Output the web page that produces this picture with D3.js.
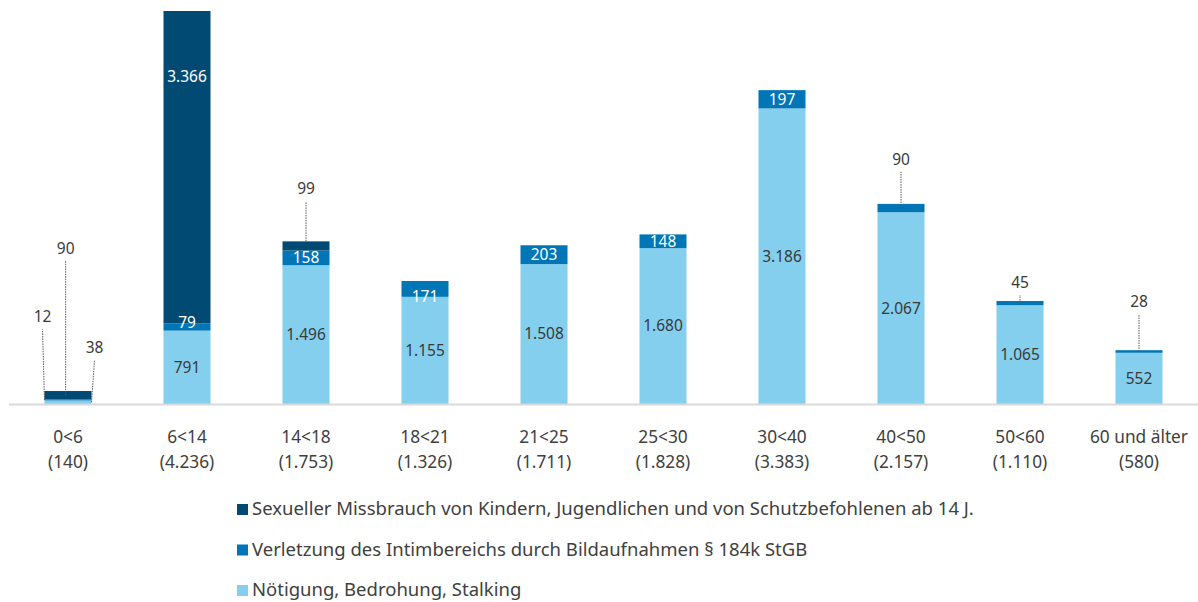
<!DOCTYPE html>
<html>
<head>
<meta charset="utf-8">
<script src="https://cdn.jsdelivr.net/npm/d3@7"></script>
<style>
  body { margin: 0; background: #fff; }
  svg text { font-family: "Noto Sans", "Open Sans", sans-serif; }
</style>
</head>
<body>
<div id="chart-area"><svg></svg></div>
<script>
const chartSize = { width: 1198, height: 602 };

const categories = ["0<6", "6<14", "14<18", "18<21", "21<25", "25<30", "30<40", "40<50", "50<60", "60 und älter"];
const missbrauch = [90, 3366, 99, 0, 0, 0, 0, 0, 0, 0];
const intim = [12, 79, 158, 171, 203, 148, 197, 90, 45, 28];
const noetigung = [38, 791, 1496, 1155, 1508, 1680, 3186, 2067, 1065, 552];

const seriesNames = [
  "Sexueller Missbrauch von Kindern, Jugendlichen und von Schutzbefohlenen ab 14 J.",
  "Verletzung des Intimbereichs durch Bildaufnahmen § 184k StGB",
  "Nötigung, Bedrohung, Stalking"
];
const colours = ["#004a74", "#0076b6", "#84cfee"];

// labels drawn above the bar with a dotted leader (key, category index, where on bar, rise)
const outsideLabels = [
  { key: "intim", i: 0, at: 0, rise: 70, dx: -2 },
  { key: "missbrauch", i: 0, at: 0.45, rise: 130, dx: 0 },
  { key: "noetigung", i: 0, at: 1, rise: 40, dx: 3 },
  { key: "missbrauch", i: 2, at: 0.5, rise: 40, dx: 0 },
  { key: "intim", i: 7, at: 0.5, rise: 32, dx: 0 },
  { key: "intim", i: 8, at: 0.5, rise: 6, dx: 0 },
  { key: "intim", i: 9, at: 0.5, rise: 36, dx: 0 }
];
// inside labels nudged away from the segment centre
const labelNudge = { "missbrauch-1": -91, "intim-1": -4, "intim-3": 8 };

const de = d3.formatLocale({ decimal: ",", thousands: ".", grouping: [3], currency: ["", "€"] });
const num = de.format(",d");

const keys = ["noetigung", "intim", "missbrauch"];
const colourOf = { missbrauch: colours[0], intim: colours[1], noetigung: colours[2] };
const rows = categories.map((c, i) => ({
  cat: c, missbrauch: missbrauch[i], intim: intim[i], noetigung: noetigung[i],
  total: missbrauch[i] + intim[i] + noetigung[i]
}));

const baseline = 404;
const xScale = d3.scaleBand().domain(categories).range([8.5, 1198.5])
  .paddingInner(0.605).paddingOuter(0.3025);
const yScale = d3.scaleLinear().domain([0, d3.max(rows, d => d.total)]).range([baseline, 11]);

const svg = d3.select("#chart-area svg")
  .attr("width", chartSize.width).attr("height", chartSize.height);

const stack = d3.stack().keys(keys)(rows);

const layers = svg.selectAll("g.layer").data(stack).enter().append("g")
  .attr("class", "layer")
  .attr("fill", s => colourOf[s.key]);

layers.selectAll("rect").data(s => s.map(p => ({ p, key: s.key })))
  .enter().append("rect")
  .attr("x", d => xScale(d.p.data.cat))
  .attr("width", xScale.bandwidth())
  .attr("y", d => yScale(d.p[1]))
  .attr("height", d => yScale(d.p[0]) - yScale(d.p[1]));

// axis
const xAxis = d3.axisBottom(xScale).tickSize(0).tickPadding(0);
const axisG = svg.append("g").attr("transform", `translate(0, ${baseline})`).call(xAxis);
axisG.select(".domain").attr("stroke", "#d9d9d9").attr("stroke-width", 2);
axisG.selectAll(".tick text").remove();
axisG.selectAll(".tick").each(function(c, i) {
  const t = d3.select(this).append("text")
    .attr("fill", "#404040").attr("font-size", 17.3).attr("text-anchor", "middle");
  t.append("tspan").attr("x", 0).attr("y", 39).text(c);
  t.append("tspan").attr("x", 0).attr("y", 64).text(`(${num(rows[i].total)})`);
});

// inside labels
const isOutside = (key, i) => outsideLabels.some(o => o.key === key && o.i === i);
stack.forEach(s => {
  s.forEach((p, i) => {
    const v = p.data[s.key];
    if (!v || isOutside(s.key, i)) return;
    svg.append("text")
      .attr("x", xScale(p.data.cat) + xScale.bandwidth() / 2)
      .attr("y", (yScale(p[0]) + yScale(p[1])) / 2 + (labelNudge[`${s.key}-${i}`] || 0))
      .attr("dy", "0.35em")
      .attr("text-anchor", "middle")
      .attr("font-size", 15.5)
      .attr("fill", s.key === "noetigung" ? "#3a3a3a" : "#fff")
      .text(num(v));
  });
});

// outside labels with dotted leaders
outsideLabels.forEach(o => {
  const s = stack.find(l => l.key === o.key);
  const p = s[o.i];
  const x0 = xScale(p.data.cat) + xScale.bandwidth() * o.at;
  const yTop = yScale(p[1]);
  const yMid = (yScale(p[0]) + yScale(p[1])) / 2;
  svg.append("line")
    .attr("x1", x0).attr("y1", o.key === "missbrauch" && o.i === 2 ? yTop : yMid)
    .attr("x2", x0 + o.dx).attr("y2", yTop - o.rise)
    .attr("stroke", "#595959").attr("stroke-width", 1)
    .attr("stroke-dasharray", "1.5,1");
  svg.append("text")
    .attr("x", x0 + o.dx).attr("y", yTop - o.rise - 7)
    .attr("text-anchor", "middle")
    .attr("font-size", 15.5).attr("fill", "#3a3a3a")
    .text(num(p.data[o.key]));
});

// legend
const legend = svg.append("g").attr("transform", "translate(237, 509)");
seriesNames.forEach((name, i) => {
  const g = legend.append("g").attr("transform", `translate(0, ${i * 40.5})`);
  g.append("rect").attr("x", 0).attr("y", -5).attr("width", 11).attr("height", 11).attr("fill", colours[i]);
  g.append("text").attr("x", 15).attr("y", 0).attr("dy", "0.35em")
    .attr("font-size", 18.5).attr("fill", "#404040").text(name);
});
</script>
</body>
</html>
